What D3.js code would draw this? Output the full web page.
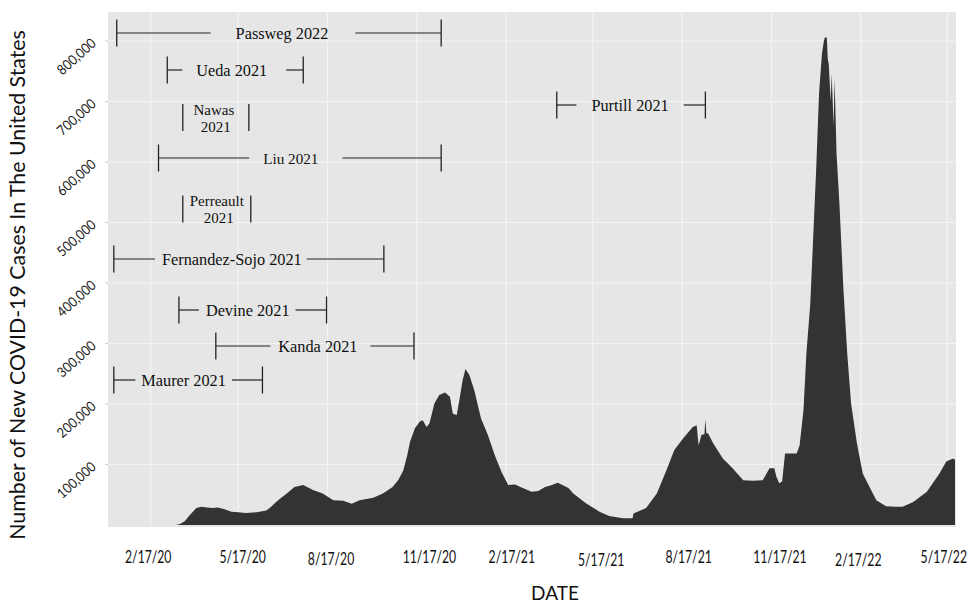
<!DOCTYPE html>
<html>
<head>
<meta charset="utf-8">
<script src="https://cdn.jsdelivr.net/npm/d3@7"></script>
<style>
  body { margin: 0; background: #ffffff; }
  svg { display: block; }
</style>
</head>
<body>
<svg id="chart" width="969" height="603"></svg>
<script>
// ---------------- DATA ----------------
const caseDates = [
  "2020-03-14","2020-03-18","2020-03-23","2020-03-28","2020-04-04","2020-04-09","2020-04-15","2020-04-21","2020-04-26",
  "2020-05-03","2020-05-10","2020-05-17","2020-05-25","2020-06-05","2020-06-15","2020-06-20","2020-06-25","2020-07-01",
  "2020-07-06","2020-07-14","2020-07-23","2020-08-02","2020-08-12","2020-08-23","2020-09-02","2020-09-11","2020-09-19",
  "2020-10-03","2020-10-13","2020-10-23","2020-10-29","2020-11-03","2020-11-07","2020-11-10","2020-11-15","2020-11-20",
  "2020-11-23","2020-11-27","2020-11-30","2020-12-05","2020-12-10","2020-12-16","2020-12-21","2020-12-24","2020-12-28",
  "2020-12-31","2021-01-03","2021-01-06","2021-01-10","2021-01-15","2021-01-22","2021-01-29","2021-02-05","2021-02-12",
  "2021-02-19","2021-02-26","2021-03-06","2021-03-15","2021-03-22","2021-03-29","2021-04-05","2021-04-11","2021-04-22",
  "2021-04-27","2021-05-10","2021-05-24","2021-06-03","2021-06-17","2021-06-27","2021-06-28","2021-07-11","2021-07-22",
  "2021-08-01","2021-08-09","2021-08-18","2021-08-28","2021-09-01","2021-09-03","2021-09-06","2021-09-09","2021-09-10",
  "2021-09-11","2021-09-13","2021-09-18","2021-09-28","2021-10-08","2021-10-19","2021-10-29","2021-11-08","2021-11-12",
  "2021-11-15","2021-11-20","2021-11-22","2021-11-25","2021-11-28","2021-12-01","2021-12-13","2021-12-16","2021-12-20",
  "2021-12-23","2021-12-27","2021-12-30","2022-01-02","2022-01-05","2022-01-08","2022-01-10","2022-01-11","2022-01-13",
  "2022-01-14","2022-01-15","2022-01-17","2022-01-18","2022-01-20","2022-01-21","2022-01-23","2022-01-26","2022-01-30",
  "2022-02-03","2022-02-07","2022-02-13","2022-02-19","2022-02-26","2022-03-05","2022-03-15","2022-03-25","2022-04-01",
  "2022-04-12","2022-04-26","2022-05-09","2022-05-16","2022-05-23","2022-05-25"
];
const newCases = [
  0,1500,6000,16000,28000,30000,29000,28000,29000,
  26000,22000,21000,20000,21000,24000,30000,38000,46000,
  52000,63000,66000,58000,52000,41000,40000,35000,41000,
  45000,52000,63000,75000,90000,115000,138000,160000,171000,
  173000,162000,168000,201000,215000,219000,212000,184000,182000,
  209000,239000,258000,248000,223000,176000,149000,116000,88000,
  66000,67000,61000,55000,56000,63000,66000,70000,61000,
  52000,36000,22000,15000,11000,11000,19000,28000,52000,
  91000,124000,143000,162000,165000,132000,149000,150000,175000,
  152000,151000,135000,110000,94000,74000,73000,74000,85000,
  94000,94000,80000,69000,72000,118000,118000,132000,190000,
  284000,366000,476000,586000,713000,779000,800000,806000,806000,
  770000,762000,700000,746000,660000,738000,614000,531000,393000,
  284000,201000,135000,85000,63000,41000,31000,30000,30000,
  38000,55000,85000,105000,110000,108000
];

const xTickDates  = ["2020-02-17","2020-05-17","2020-08-17","2020-11-17","2021-02-17","2021-05-17","2021-08-17","2021-11-17","2022-02-17","2022-05-17"];
const xTickLabels = ["2/17/20","5/17/20","8/17/20","11/17/20","2/17/21","5/17/21","8/17/21","11/17/21","2/17/22","5/17/22"];
const yTickValues = [100000,200000,300000,400000,500000,600000,700000,800000];

const studyNames = ["Passweg 2022","Ueda 2021","Nawas\n2021","Liu 2021","Perreault\n2021","Fernandez-Sojo 2021","Devine 2021","Kanda 2021","Maurer 2021","Purtill 2021"];
const studyStart = ["2020-01-13","2020-03-05","2020-03-21","2020-02-25","2020-03-21","2020-01-10","2020-03-17","2020-04-24","2020-01-10","2021-04-10"];
const studyEnd   = ["2020-12-12","2020-07-23","2020-05-28","2020-12-12","2020-05-30","2020-10-14","2020-08-16","2020-11-14","2020-06-11","2021-09-10"];

// ---------------- LAYOUT (not data) ----------------
const panel = { left: 108, right: 956, top: 12, bottom: 527 };
const yBase = 525;
const studyRowY   = [33, 70, 117.5, 158, 209, 259, 310, 346, 380, 105];
const studyTextDx = [3, -3.5, -2, -9, 0, -17, -5, 3, -4.5, -1];
const studyPadL   = [25, 14, 0, 14, 0, 7, 7, 8, 6, 15];
const studyPadR   = [27, 19, 0, 24, 0, 5, 6, 13, 6, 15];
const xLabelY     = [563, 563, 565, 563, 563, 566, 563, 563, 566, 563];
const xLabelDx    = [-3, 4, 3, 12, 5, 8, 6, 8, -3, -4];

const tickFont = "Lato, 'Open Sans', sans-serif";

const parse = d3.timeParse("%Y-%m-%d");
const series = caseDates.map((d, i) => ({ date: parse(d), v: newCases[i] }));

const svg = d3.select("#chart");
const x = d3.scaleTime()
  .domain([parse("2020-01-04"), parse("2022-05-26")])
  .range([panel.left, panel.right]);
const y = d3.scaleLinear()
  .domain([0, 848000])
  .range([yBase, panel.top]);

// panel background
svg.append("rect")
  .attr("x", panel.left).attr("y", panel.top)
  .attr("width", panel.right - panel.left).attr("height", panel.bottom - panel.top)
  .attr("fill", "#e6e6e6");

// grid
const grid = svg.append("g");
grid.selectAll("line.v").data(xTickDates.map(parse)).join("line")
  .attr("x1", d => x(d)).attr("x2", d => x(d))
  .attr("y1", panel.top).attr("y2", panel.bottom)
  .attr("stroke", "#f4f4f4").attr("stroke-width", 1.1);
grid.selectAll("line.h").data(yTickValues).join("line")
  .attr("x1", panel.left).attr("x2", panel.right)
  .attr("y1", d => y(d)).attr("y2", d => y(d))
  .attr("stroke", "#f4f4f4").attr("stroke-width", 1.1);

// small left ticks
svg.append("g").selectAll("line").data(yTickValues).join("line")
  .attr("x1", panel.left - 3).attr("x2", panel.left)
  .attr("y1", d => y(d)).attr("y2", d => y(d))
  .attr("stroke", "#c8c8c8").attr("stroke-width", 1);

// area
const area = d3.area()
  .x(d => x(d.date))
  .y0(y(0))
  .y1(d => y(d.v));
svg.append("path").datum(series)
  .attr("d", area)
  .attr("fill", "#333333");

// y tick labels (rotated)
const yAxis = d3.axisLeft(y).tickValues(yTickValues).tickFormat(d3.format(",")).tickSize(0);
const gy = svg.append("g").attr("transform", "translate(97,3)").call(yAxis);
gy.select(".domain").remove();
gy.selectAll("text")
  .attr("x", 0).attr("dy", 0)
  .attr("transform", "rotate(-42) scale(0.9,1)")
  .attr("text-anchor", "end")
  .attr("fill", "#222")
  .style("font-family", tickFont)
  .style("font-size", "14px");

// x tick labels
const xAxis = d3.axisBottom(x).tickValues(xTickDates.map(parse))
  .tickFormat((d, i) => xTickLabels[i]).tickSize(0);
const gx = svg.append("g").call(xAxis);
gx.select(".domain").remove();
gx.selectAll("text")
  .attr("y", (d, i) => xLabelY[i]).attr("dy", 0)
  .attr("transform", (d, i) => `translate(${xLabelDx[i]},0) scale(0.74,1)`)
  .attr("fill", "#111")
  .style("font-family", tickFont)
  .style("font-size", "16.5px");

// axis titles
const yTitle = svg.append("text")
  .attr("transform", "translate(25,285) rotate(-90)")
  .attr("text-anchor", "middle")
  .attr("fill", "#111")
  .style("font-family", "Lato, 'Open Sans', sans-serif")
  .style("font-size", "20px")
  .text("Number of New COVID-19 Cases In The United States");
const yl = yTitle.node().getComputedTextLength();
yTitle.style("font-size", (20 * 510 / yl) + "px");

svg.append("text")
  .attr("x", 555).attr("y", 600)
  .attr("text-anchor", "middle")
  .attr("fill", "#111")
  .style("font-family", "Lato, 'Open Sans', sans-serif")
  .style("font-size", "19px")
  .text("DATE");

// study period annotations
const ann = svg.append("g");
studyNames.forEach((name, i) => {
  const x0 = x(parse(studyStart[i])), x1 = x(parse(studyEnd[i]));
  const cy = studyRowY[i];
  const cx = (x0 + x1) / 2 + studyTextDx[i];
  const lines = name.split("\n");
  const g = ann.append("g");
  const stroke = "#222";
  [x0, x1].forEach(xx => g.append("line")
    .attr("x1", xx).attr("x2", xx).attr("y1", cy - 13.5).attr("y2", cy + 13.5)
    .attr("stroke", stroke).attr("stroke-width", 1.3));
  if (lines.length === 1) {
    const t = g.append("text")
      .attr("x", cx).attr("y", cy + 6)
      .attr("text-anchor", "middle")
      .attr("fill", "#111")
      .style("font-family", "'Liberation Serif', 'Times New Roman', serif")
      .style("font-size", name === "Liu 2021" ? "15.2px" : "16.3px")
      .text(name);
    const w = t.node().getComputedTextLength();
    const tl = cx - w / 2, tr = cx + w / 2;
    g.append("line").attr("x1", x0).attr("x2", tl - studyPadL[i])
      .attr("y1", cy).attr("y2", cy).attr("stroke", stroke).attr("stroke-width", 1.2);
    g.append("line").attr("x1", tr + studyPadR[i]).attr("x2", x1)
      .attr("y1", cy).attr("y2", cy).attr("stroke", stroke).attr("stroke-width", 1.2);
  } else {
    const t = g.append("text")
      .attr("text-anchor", "middle")
      .attr("fill", "#111")
      .style("font-family", "'Liberation Serif', 'Times New Roman', serif")
      .style("font-size", "15px");
    t.append("tspan").attr("x", cx).attr("y", cy - 3).text(lines[0]);
    t.append("tspan").attr("x", cx + 2).attr("y", cy + 14).text(lines[1]);
  }
});
</script>
</body>
</html>
